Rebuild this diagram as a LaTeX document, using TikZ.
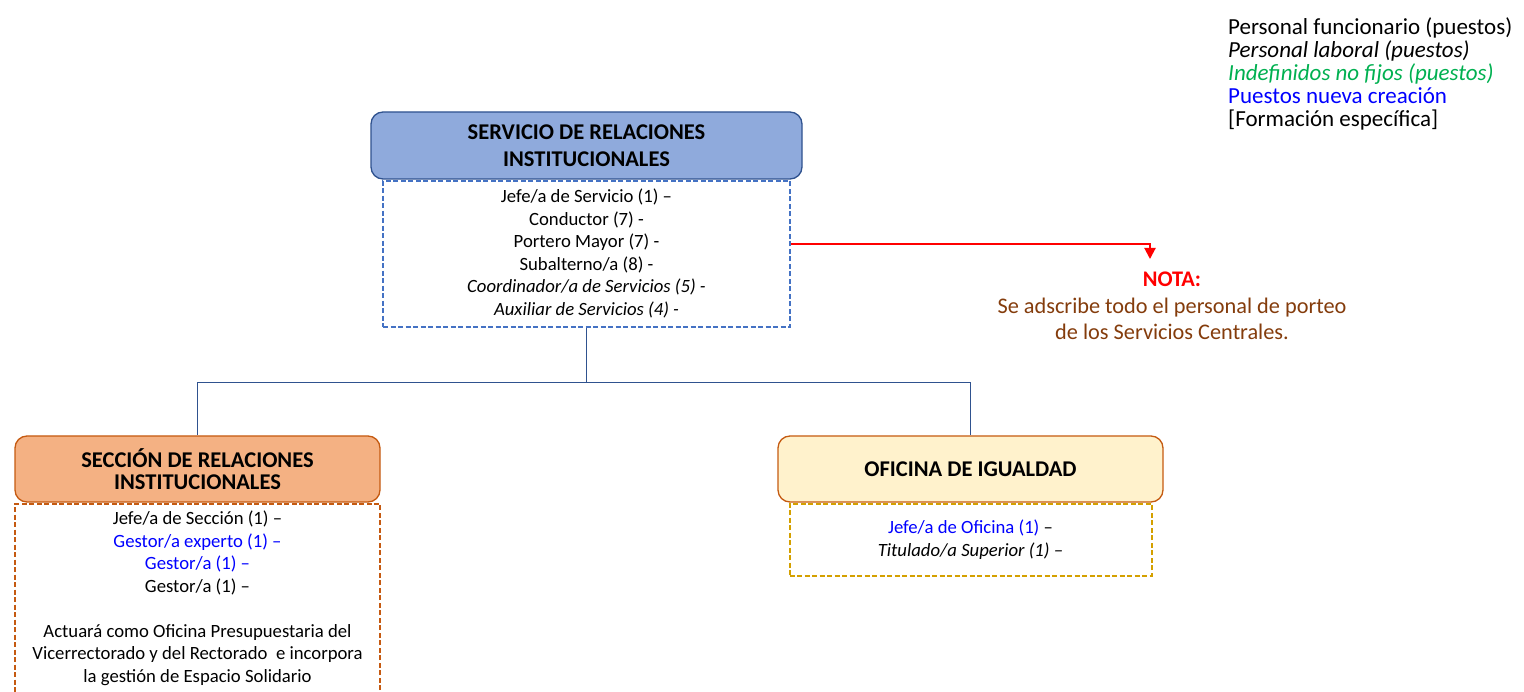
\documentclass[tikz,border=0pt]{standalone}
\usepackage{fontspec}
\setmainfont{Carlito}
\usetikzlibrary{positioning,arrows.meta}

\definecolor{azulcab}{HTML}{8FAADC}
\definecolor{azulborde}{HTML}{2F528F}
\definecolor{azuldash}{HTML}{4472C4}
\definecolor{naranja}{HTML}{F4B183}
\definecolor{naranjaborde}{HTML}{C55A11}
\definecolor{crema}{HTML}{FFF2CC}
\definecolor{dorado}{HTML}{D4A000}
\definecolor{rojo}{HTML}{FF0000}
\definecolor{marron}{HTML}{843C0C}
\definecolor{verde}{HTML}{00B050}
\definecolor{azulnuevo}{HTML}{0000FF}

\tikzset{
  cabecera/.style={draw, line width=1.3pt, rounded corners=12pt, align=center,
    font=\bfseries\fontsize{22.5}{22}\selectfont, inner sep=0pt},
  puestos/.style={draw, line width=2pt, dash pattern=on 5pt off 2.5pt,
    align=center, font=\fontsize{18.7}{22.5}\selectfont, inner sep=0pt},
  conector/.style={draw=azulborde, line width=1.2pt},
  flecha/.style={draw=rojo, line width=2pt, -{Triangle[width=11pt,length=11pt]}},
}

\begin{document}
\begin{tikzpicture}[x=1pt,y=-1pt]
        \useasboundingbox (0,0) rectangle (1524,692);

        % Paso 1: Cajas de puestos (discontinuas) y cabeceras
        \node[cabecera, fill=azulcab, draw=azulborde, minimum width=431pt,
              minimum height=67pt, font=\bfseries\fontsize{22.5}{26.5}\selectfont]
              (srv) at (586.5,145.5) {SERVICIO DE RELACIONES\\INSTITUCIONALES};
        \node[puestos, draw=azuldash, minimum width=407pt, minimum height=146pt,
              below=0pt of srv] (srvp)
              {Jefe/a de Servicio (1) --\\
               Conductor (7) -\\
               Portero Mayor (7) -\\
               Subalterno/a (8) -\\
               \textit{Coordinador/a de Servicios (5) -}\\
               \textit{Auxiliar de Servicios (4) -}};

        \node[cabecera, fill=naranja, draw=naranjaborde, minimum width=365pt,
              minimum height=66pt] (sec) at (197.5,469) {SECCIÓN DE RELACIONES\\INSTITUCIONALES};
        \node[puestos, draw=naranjaborde, minimum width=365pt, minimum height=189pt,
              below=0pt of sec] (secp)
              {Jefe/a de Sección (1) --\\
               {\color{azulnuevo}Gestor/a experto (1) --}\\
               {\color{azulnuevo}Gestor/a (1) --}\\
               Gestor/a (1) --\\[22.5pt]
               Actuará como Oficina Presupuestaria del\\
               Vicerrectorado y del Rectorado \ e incorpora\\
               la gestión de Espacio Solidario};

        \node[cabecera, fill=crema, draw=naranjaborde, minimum width=385pt,
              minimum height=66pt] (ofi) at (970.5,469) {OFICINA DE IGUALDAD};
        \node[puestos, draw=dorado, minimum width=362pt, minimum height=72pt,
              below=0pt of ofi] (ofip)
              {{\color{azulnuevo}Jefe/a de Oficina (1)} --\\
               \textit{Titulado/a Superior (1) --}};

        % Paso 2: Conectores del organigrama
        \draw[conector] (srvp.south) -- ++(0,55) coordinate (union);
        \draw[conector] (union) -| (sec.north);
        \draw[conector] (union) -| (ofi.north);

        % Paso 3: Nota con su flecha roja
        \node[align=center, inner sep=0pt, text=marron,
              font=\fontsize{22.3}{26.5}\selectfont] (nota) at (1172,306)
              {\textbf{\color{rojo}NOTA:}\\
               Se adscribe todo el personal de porteo\\
               de los Servicios Centrales.};
        \coordinate (destino) at (1150,259);
        \draw[flecha] ([yshift=10pt]srvp.east) -| (destino);

        % Paso 4: Leyenda
        \node[align=left, anchor=west, inner sep=0pt,
              font=\fontsize{23}{23}\selectfont] (leyenda) at (1228,74)
              {Personal funcionario (puestos)\\
               \textit{Personal laboral (puestos)}\\
               {\color{verde}\itshape Indefinidos no fijos (puestos)}\\
               {\color{azulnuevo}Puestos nueva creación}\\
               {[}Formación específica{]}};
\end{tikzpicture}
\end{document}
